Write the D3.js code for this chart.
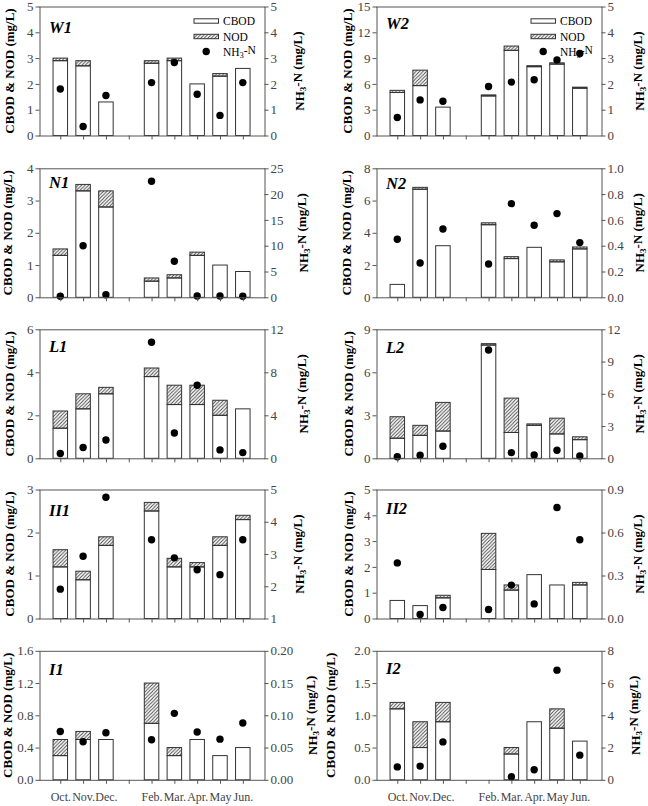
<!DOCTYPE html>
<html>
<head>
<meta charset="utf-8">
<script src="https://cdn.jsdelivr.net/npm/d3@7"></script>
<style>
body { margin: 0; background: #fff; }
svg text { font-family: "Liberation Serif", "Times New Roman", Times, Tinos, "DejaVu Serif", serif; }
</style>
</head>
<body>
<svg id="chart" width="648" height="806"></svg>
<script>
const months = ["Oct.", "Nov.", "Dec.", "", "Feb.", "Mar.", "Apr.", "May", "Jun."];
const sites = ["W1", "W2", "N1", "N2", "L1", "L2", "II1", "II2", "I1", "I2"];

// CBOD (mg/L), one row per site, Jan slot empty
const cbod = [
    [2.9, 2.7, 1.3, null, 2.8, 2.9, 2.0, 2.3, 2.6],
    [5.0, 5.8, 3.3, null, 4.6, 9.9, 8.0, 8.3, 5.5],
    [1.3, 3.3, 2.8, null, 0.5, 0.6, 1.3, 1.0, 0.8],
    [0.8, 6.7, 3.2, null, 4.5, 2.4, 3.1, 2.2, 3.0],
    [1.4, 2.3, 3.0, null, 3.8, 2.5, 2.5, 2.0, 2.3],
    [1.4, 1.6, 1.9, null, 7.9, 1.8, 2.3, 1.7, 1.3],
    [1.2, 0.9, 1.7, null, 2.5, 1.2, 1.2, 1.7, 2.3],
    [0.7, 0.5, 0.8, null, 1.9, 1.1, 1.7, 1.3, 1.3],
    [0.3, 0.5, 0.5, null, 0.7, 0.3, 0.5, 0.3, 0.4],
    [1.1, 0.5, 0.9, null, null, 0.4, 0.9, 0.8, 0.6]
];

// NOD (mg/L)
const nod = [
    [0.1, 0.2, 0, null, 0.1, 0.1, 0, 0.1, 0],
    [0.25, 1.8, 0, null, 0.12, 0.5, 0.12, 0.15, 0.12],
    [0.2, 0.2, 0.5, null, 0.1, 0.1, 0.1, 0, 0],
    [0, 0.12, 0, null, 0.12, 0.12, 0, 0.12, 0.12],
    [0.8, 0.7, 0.3, null, 0.4, 0.9, 0.9, 0.7, 0],
    [1.5, 0.7, 2.0, null, 0.1, 2.4, 0.1, 1.1, 0.2],
    [0.4, 0.2, 0.2, null, 0.2, 0.2, 0.1, 0.2, 0.1],
    [0, 0, 0.1, null, 1.4, 0.2, 0, 0, 0.1],
    [0.2, 0.1, 0, null, 0.5, 0.1, 0, 0, 0],
    [0.1, 0.4, 0.3, null, null, 0.1, 0, 0.3, 0]
];

// NH3-N (mg/L)
const nh3 = [
    [1.8, 0.35, 1.55, null, 2.05, 2.83, 1.6, 0.78, 2.05],
    [0.70, 1.38, 1.33, null, 1.9, 2.07, 2.16, 2.93, 3.18],
    [0.2, 10, 0.5, null, 22.5, 7.0, 0.25, 0.25, 0.2],
    [0.45, 0.266, 0.53, null, 0.258, 0.726, 0.558, 0.649, 0.424],
    [0.44, 1.0, 1.7, null, 10.8, 2.36, 6.8, 0.78, 0.53],
    [0.15, 0.28, 1.12, null, 10.07, 0.53, 0.31, 0.75, 0.22],
    [1.91, 2.93, 4.76, null, 3.44, 2.88, 2.51, 2.36, 3.44],
    [0.388, 0.028, 0.077, null, 0.063, 0.233, 0.102, 0.774, 0.549],
    [0.075, 0.059, 0.073, null, 0.062, 0.103, 0.074, 0.063, 0.088],
    [0.8, 0.85, 2.35, null, null, 0.19, 0.62, 6.8, 1.53]
];

// axis ranges and tick steps
const leftMax = [5, 15, 4, 8, 6, 9, 3, 5, 1.6, 2.0];
const leftStep = [1, 3, 1, 2, 2, 3, 1, 1, 0.4, 0.5];
const leftFmt = ["d", "d", "d", "d", "d", "d", "d", "d", ".1f", ".1f"];
const rightDomain = [[0, 5], [0, 5], [0, 25], [0, 1], [0, 12], [0, 12], [1, 5], [0, 0.9], [0, 0.2], [0, 8]];
const rightStep = [1, 1, 5, 0.2, 4, 3, 1, 0.3, 0.05, 2];
const rightFmt = ["d", "d", "d", ".1f", "d", "d", "d", ".1f", ".2f", "d"];

// layout
const colX = [39, 376];
const rowTop = [6.5, 168.3, 329.3, 489.5, 650.8];
const plotW = 226, plotH = 129;
const leftTitleX = [9, 347.5, 7.5, 346.7, 9, 348, 9, 348, 7.5, 330.7];
const rightTitleX = [299, 639, 303, 639, 303, 639, 299, 639, 312, 635];
const labelDy = [26, 22, 20, 21, 23, 24, 26, 24, 24, 23];

const FONT = '"Liberation Serif", "Times New Roman", Times, Tinos, "DejaVu Serif", serif';
const AXIS = "#555", TICKTXT = "#444", BAR = "#333";

const svg = d3.select("#chart").attr("font-family", FONT);
svg.append("rect").attr("width", 648).attr("height", 806).attr("fill", "#fff");

svg.append("defs").append("pattern")
    .attr("id", "hatch")
    .attr("patternUnits", "userSpaceOnUse")
    .attr("width", 3.5).attr("height", 3.5)
    .append("path")
    .attr("d", "M-1,1 l2,-2 M0,3.5 l3.5,-3.5 M2.5,4.5 l2,-2")
    .attr("stroke", "#444")
    .attr("stroke-width", 0.9);

let x = d3.scaleLinear().domain([1, 9]).range([21.3, 203.8]);
const barW = 14.5;

function stepTicks(lo, hi, step) {
    let n = Math.round((hi - lo) / step);
    return d3.range(n + 1).map(i => lo + i * step);
}

sites.forEach((site, p) => {
    let col = p % 2, row = Math.floor(p / 2);
    let g = svg.append("g").attr("transform", `translate(${colX[col]},${rowTop[row]})`);

    let yL = d3.scaleLinear().domain([0, leftMax[p]]).range([plotH, 0]);
    let yR = d3.scaleLinear().domain(rightDomain[p]).range([plotH, 0]);

    let rows = months.map((m, i) => ({
        i: i + 1, c: cbod[p][i], n: nod[p][i], a: nh3[p][i]
    }));

    // bars
    let bars = g.selectAll("g.bar")
        .data(rows.filter(d => d.c != null))
        .enter().append("g")
        .attr("class", "bar");

    bars.append("rect")
        .attr("x", d => x(d.i) - barW / 2)
        .attr("y", d => yL(d.c))
        .attr("width", barW)
        .attr("height", d => yL(0) - yL(d.c))
        .attr("fill", "#fff")
        .attr("stroke", BAR)
        .attr("stroke-width", 1);

    bars.filter(d => d.n > 0).append("rect")
        .attr("x", d => x(d.i) - barW / 2)
        .attr("y", d => yL(d.c + d.n))
        .attr("width", barW)
        .attr("height", d => yL(d.c) - yL(d.c + d.n))
        .attr("fill", "url(#hatch)")
        .attr("stroke", BAR)
        .attr("stroke-width", 1);

    // NH3-N dots
    g.selectAll("circle.dot")
        .data(rows.filter(d => d.a != null))
        .enter().append("circle")
        .attr("class", "dot")
        .attr("cx", d => x(d.i))
        .attr("cy", d => yR(d.a))
        .attr("r", 3.7)
        .attr("fill", "#000");

    // frame top
    g.append("line")
        .attr("x1", 0).attr("x2", plotW)
        .attr("y1", 0.5).attr("y2", 0.5)
        .attr("stroke", AXIS);

    let ax = d3.axisBottom(x)
        .tickValues(d3.range(1, 10))
        .tickSize(4)
        .tickSizeOuter(0)
        .tickFormat(row === 4 ? (d => months[d - 1]) : "");
    let bx = g.append("g").attr("transform", `translate(0,${plotH})`).call(ax);
    bx.select(".domain").attr("d", `M0,0.5H${plotW}`);

    let al = d3.axisLeft(yL)
        .tickValues(stepTicks(0, leftMax[p], leftStep[p]))
        .tickFormat(d3.format(leftFmt[p]))
        .tickSize(4).tickSizeOuter(0).tickPadding(2);
    let gl = g.append("g").attr("transform", "translate(0.5,0)").call(al);

    let ar = d3.axisRight(yR)
        .tickValues(stepTicks(rightDomain[p][0], rightDomain[p][1], rightStep[p]))
        .tickFormat(d3.format(rightFmt[p]))
        .tickSize(4).tickSizeOuter(0).tickPadding(2);
    let gr = g.append("g").attr("transform", `translate(${plotW - 0.5},0)`).call(ar);

    [bx, gl, gr].forEach(a => {
        a.attr("font-family", FONT);
        a.select(".domain").attr("stroke", AXIS);
        a.selectAll(".tick line").attr("stroke", AXIS);
        a.selectAll(".tick text")
            .attr("fill", TICKTXT)
            .attr("font-size", 13);
    });
    bx.selectAll(".tick text").attr("font-size", 12).attr("dy", "1.2em");

    // panel label
    g.append("text")
        .attr("x", 10)
        .attr("y", labelDy[p])
        .attr("font-size", 16.5)
        .attr("font-weight", "bold")
        .attr("font-style", "italic")
        .text(site);

    // axis titles
    svg.append("text")
        .attr("transform", `translate(${leftTitleX[p]},${rowTop[row] + plotH / 2}) rotate(-90)`)
        .attr("text-anchor", "middle")
        .attr("dy", "0.35em")
        .attr("font-size", 13)
        .attr("font-weight", "bold")
        .text("CBOD & NOD (mg/L)");

    let rt = svg.append("text")
        .attr("transform", `translate(${rightTitleX[p]},${rowTop[row] + plotH / 2}) rotate(-90)`)
        .attr("text-anchor", "middle")
        .attr("dy", "0.35em")
        .attr("font-size", 13)
        .attr("font-weight", "bold");
    rt.append("tspan").text("NH");
    rt.append("tspan").attr("dy", "0.3em").attr("font-size", 9).text("3");
    rt.append("tspan").attr("dy", "-0.3em").text("-N (mg/L)");

    // legend on the top row
    if (row === 0) {
        let lg = g.append("g").attr("transform", `translate(${plotW - 71},0)`);
        let items = [
            { name: "CBOD", fill: "#fff", y: 14.5 },
            { name: "NOD", fill: "url(#hatch)", y: 30 }
        ];
        lg.selectAll("rect")
            .data(items)
            .enter().append("rect")
            .attr("x", 0).attr("y", d => d.y - 2.2)
            .attr("width", 24.5).attr("height", 4.4)
            .attr("fill", d => d.fill)
            .attr("stroke", BAR);
        lg.selectAll("text.lab")
            .data(items)
            .enter().append("text")
            .attr("class", "lab")
            .attr("x", 29).attr("y", d => d.y + 4)
            .attr("font-size", 11.5)
            .text(d => d.name);
        lg.append("circle")
            .attr("cx", 12.2).attr("cy", 45)
            .attr("r", 3.7).attr("fill", "#000");
        let nt = lg.append("text")
            .attr("x", 29).attr("y", 49)
            .attr("font-size", 11.5);
        nt.append("tspan").text("NH");
        nt.append("tspan").attr("dy", "0.3em").attr("font-size", 8).text("3");
        nt.append("tspan").attr("dy", "-0.3em").text("-N");
    }
});
</script>
</body>
</html>
